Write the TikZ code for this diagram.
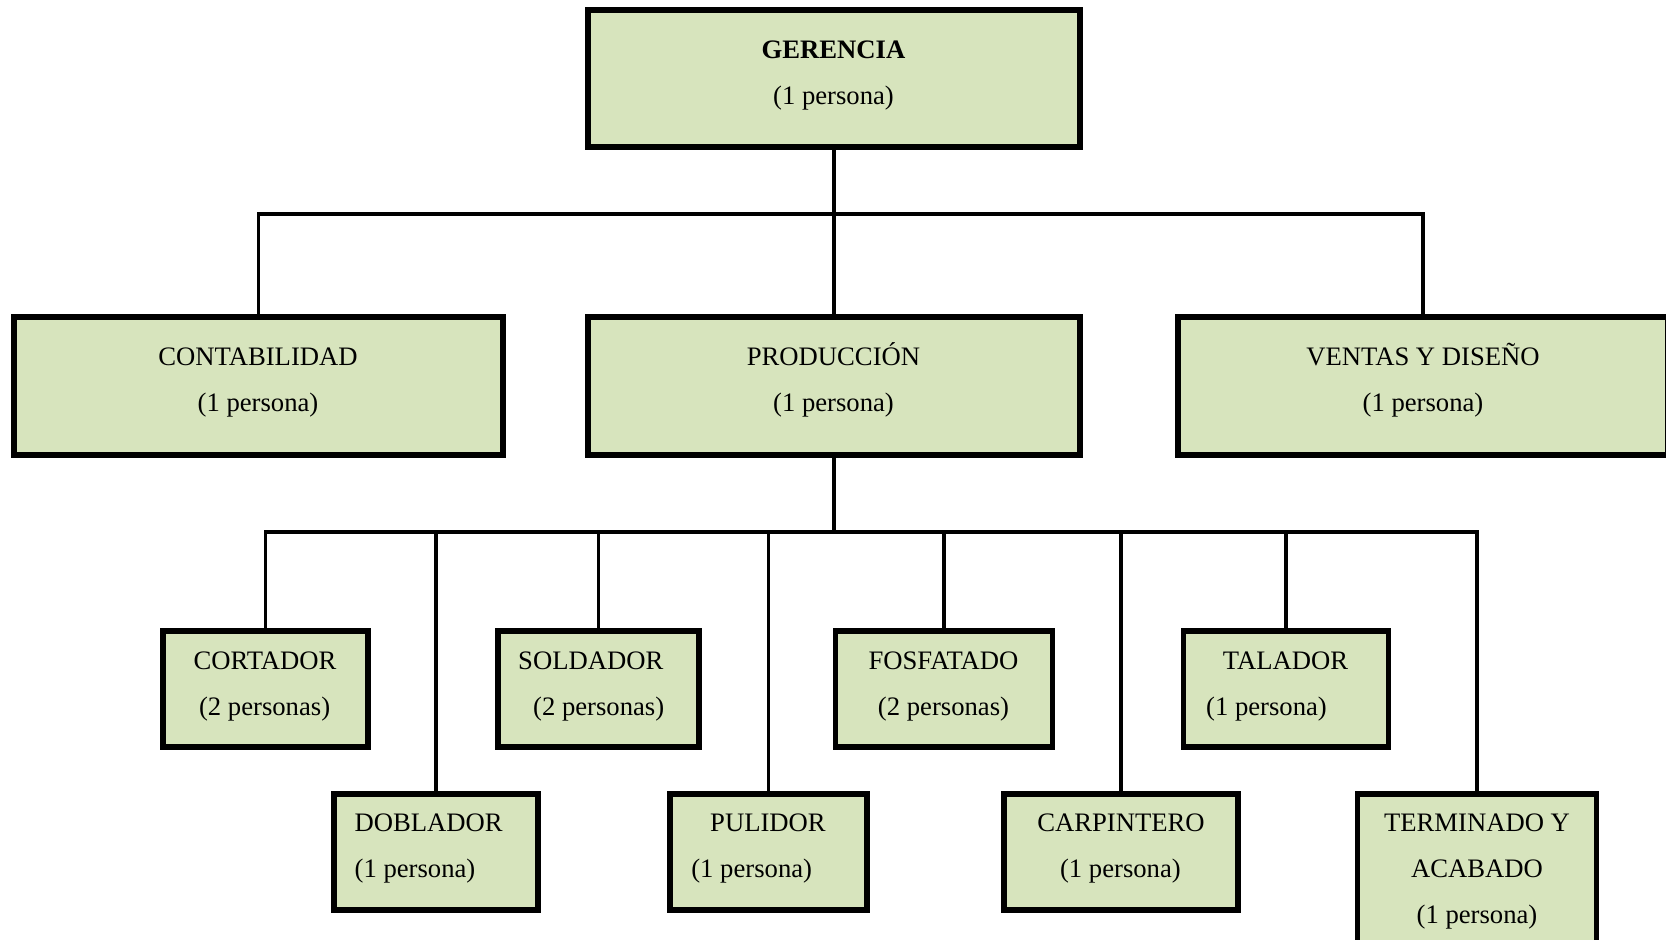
\documentclass[tikz,border=0pt]{standalone}
\usepackage{fontspec}
\setmainfont{Liberation Serif}
\definecolor{verdeclaro}{HTML}{D7E4BD}

\tikzset{every picture/.style={line width=0.75pt}}
\tikzset{
  caja/.style 2 args={draw=black, fill=verdeclaro, line width=3.8pt, inner sep=0pt,
    minimum width=#1*0.75pt, minimum height=#2*0.75pt},
  texto/.style={inner sep=0pt, anchor=base, font=\fontsize{20}{24}\selectfont},
  conector/.style={draw=black, line width=2.6pt}
}

\begin{document}
\begin{tikzpicture}[x=0.75pt,y=0.75pt,yscale=-1,xscale=1]
    \useasboundingbox (0,0) rectangle (1666,939);

    %Shape: Rectangle [gerencia]
    \node[caja={492}{137}] (ger) at (834,78.5) {};
    %Shape: Rectangle [segundo nivel]
    \node[caja={489}{138}] (cont) at (258.5,386) {};
    \node[caja={492}{138}] (prod) at (834,386) {};
    \node[caja={490}{138}] (vent) at (1423,386) {};
    %Shape: Rectangle [tercer nivel, fila alta]
    \node[caja={205}{116}] (cort) at (265.5,689) {};
    \node[caja={201}{116}] (sold) at (598.5,689) {};
    \node[caja={217}{116}] (fosf) at (944,689) {};
    \node[caja={204.5}{116}] (tala) at (1286,689) {};
    %Shape: Rectangle [tercer nivel, fila baja]
    \node[caja={204}{116}] (dobl) at (436,852) {};
    \node[caja={197}{116}] (puli) at (768.5,852) {};
    \node[caja={234}{116}] (carp) at (1121,852) {};
    \node[caja={239}{166}] (term) at (1477,877) {};

    %Straight Lines [gerencia -> segundo nivel]
    \coordinate (bus1) at (834,214);
    \draw[conector] (ger) -- (prod);
    \draw[conector] (cont.north) |- (bus1) -| (vent.north);

    %Straight Lines [produccion -> tercer nivel]
    \coordinate (bus2) at (834,532);
    \draw[conector] (prod) -- (bus2);
    \draw[conector] (cort.north) |- (bus2) -| (term.north);
    \foreach \n in {dobl,sold,puli,fosf,carp,tala}
      \draw[conector] (bus2 -| \n.north) -- (\n.north);

    % Text Node
    \node[texto] (ger-a) at (833.5,58) {\textbf{GERENCIA}};
    \node[texto] (ger-b) at (833.5,104.5) {(1 persona)};
    % Text Node
    \node[texto] (cont-a) at (258,365) {CONTABILIDAD};
    \node[texto] (cont-b) at (258,411.5) {(1 persona)};
    % Text Node
    \node[texto] (prod-a) at (833.5,365) {PRODUCCIÓN};
    \node[texto] (prod-b) at (833.5,411.5) {(1 persona)};
    % Text Node
    \node[texto] (vent-a) at (1423,365) {VENTAS Y DISEÑO};
    \node[texto] (vent-b) at (1423,411.5) {(1 persona)};
    % Text Node
    \node[texto] (cort-a) at (265,669) {CORTADOR};
    \node[texto] (cort-b) at (264.6,715.5) {(2 personas)};
    % Text Node
    \node[texto] (sold-a) at (590.8,669) {SOLDADOR};
    \node[texto] (sold-b) at (598.7,715.5) {(2 personas)};
    % Text Node
    \node[texto] (fosf-a) at (943.5,669) {FOSFATADO};
    \node[texto] (fosf-b) at (943.5,715.5) {(2 personas)};
    % Text Node
    \node[texto] (tala-a) at (1285.6,669) {TALADOR};
    \node[texto] (tala-b) at (1266.5,715.5) {(1 persona)};
    % Text Node
    \node[texto] (dobl-a) at (428.7,831) {DOBLADOR};
    \node[texto] (dobl-b) at (415,877.5) {(1 persona)};
    % Text Node
    \node[texto] (puli-a) at (768,831) {PULIDOR};
    \node[texto] (puli-b) at (751.7,877.5) {(1 persona)};
    % Text Node
    \node[texto] (carp-a) at (1121,831) {CARPINTERO};
    \node[texto] (carp-b) at (1120.4,877.5) {(1 persona)};
    % Text Node
    \node[texto] (term-a) at (1477,831) {TERMINADO Y};
    \node[texto] (term-b) at (1477,877) {ACABADO};
    \node[texto] (term-c) at (1477,923) {(1 persona)};
\end{tikzpicture}
\end{document}
